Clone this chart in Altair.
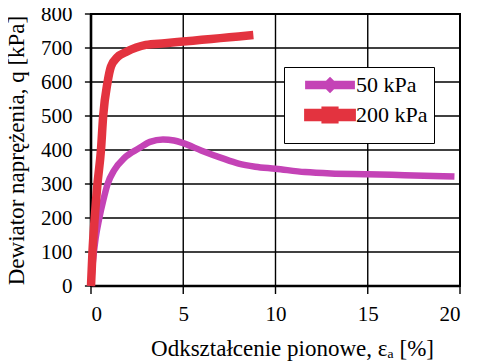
import altair as alt
import pandas as pd

series_names = ["50 kPa", "200 kPa"]

eps_50 = [0, 0.1, 0.25, 0.45, 0.67, 0.9, 1.26, 1.8, 2.6, 3.2, 3.9, 4.5, 5, 6, 7.1, 8, 8.9, 10, 11.6, 13, 15, 17, 19.7]
q_50 = [0, 70, 140, 200, 253, 300, 341, 376, 405, 424, 431, 428, 420, 398, 376, 360, 351, 345, 335, 331, 329, 326, 322]

eps_200 = [0, 0.08, 0.2, 0.35, 0.54, 0.66, 0.9, 1.08, 1.43, 1.9, 2.97, 4, 5, 6, 7, 8, 8.8]
q_200 = [0, 100, 200, 300, 400, 500, 600, 645, 673, 688, 709, 714, 719, 724, 729, 734, 738]

x_ticks = [0, 5, 10, 15, 20]
y_ticks = [0, 100, 200, 300, 400, 500, 600, 700, 800]

colors = ["#c443b6", "#e3333f"]
widths = [6.5, 8.5]
legend_paths = [
    "M-4,-0.12L1,-0.12L1,0.12L-4,0.12Z M-1.5,-0.42L-1.08,0L-1.5,0.42L-1.92,0Z",
    "M-4,-0.24L1,-0.24L1,0.24L-4,0.24Z M-2,-0.5L-1,-0.5L-1,0.5L-2,0.5Z",
]

# tick lengths expressed in axis units (style constants)
X_TICK_LEN = 23.5   # kPa below the x axis
Y_TICK_LEN = 0.33   # % left of the y axis

rows = []
for e, q in zip(eps_50, q_50):
    rows.append({"series": series_names[0], "eps": e, "q": q, "o": 0})
for e, q in zip(eps_200, q_200):
    rows.append({"series": series_names[1], "eps": e, "q": q, "o": 1})
df = pd.DataFrame(rows)

x0, x1 = x_ticks[0], x_ticks[-1]
y0, y1 = y_ticks[0], y_ticks[-1]

vg_df = pd.DataFrame({"eps": x_ticks, "q": [y0] * len(x_ticks), "q2": [y1] * len(x_ticks)})
hg_df = pd.DataFrame({"q": y_ticks, "eps": [x0] * len(y_ticks), "eps2": [x1] * len(y_ticks)})
xt_df = pd.DataFrame({"eps": x_ticks, "q": [y0] * len(x_ticks), "q2": [y0 - X_TICK_LEN] * len(x_ticks)})
yt_df = pd.DataFrame({"q": y_ticks, "eps": [x0 - Y_TICK_LEN] * len(y_ticks), "eps2": [x0] * len(y_ticks)})
ld_df = pd.DataFrame({"eps": [x0], "q": [y0], "q2": [y1]})
bd_df = pd.DataFrame({"q": [y0], "eps": [x0], "eps2": [x1]})

FONT = "Liberation Serif"

xs = alt.Scale(domain=[0, 20], nice=False)
ys = alt.Scale(domain=[0, 800], nice=False)

common_axis = dict(
    grid=False, domain=False, ticks=False,
    labelFont=FONT, labelFontSize=21, labelColor="black",
    titleFont=FONT, titleFontSize=23, titleColor="black", titleFontWeight="normal",
)

x_axis = alt.Axis(values=x_ticks, title="Odkształcenie pionowe, εₐ [%]",
                  titleX=201, titleY=69, titleBaseline="alphabetic",
                  labelBaseline="alphabetic", labelPadding=34, **common_axis)
y_axis = alt.Axis(values=y_ticks, title="Dewiator naprężenia, q [kPa]",
                  titleX=-75, titleY=136, titleBaseline="middle", titleAngle=270,
                  labelPadding=19, **common_axis)

x_enc = alt.X("eps:Q", scale=xs, axis=x_axis)
y_enc = alt.Y("q:Q", scale=ys, axis=y_axis)

color_scale = alt.Scale(domain=series_names, range=colors)
legend = alt.Legend(title=None, orient="none", legendX=193, legendY=53,
                    strokeColor="black", fillColor="white", padding=6,
                    symbolSize=300, symbolStrokeWidth=0, labelOffset=0,
                    labelFontSize=22, labelFont=FONT, labelColor="black", rowPadding=-10,
                    symbolOffset=40)


def vbars(data, half):
    return alt.Chart(data).mark_rect(color="black", xOffset=-half, x2Offset=half).encode(
        x=x_enc, x2="eps:Q", y=y_enc, y2="q2:Q")


def hbars(data, half):
    return alt.Chart(data).mark_rect(color="black", yOffset=-half, y2Offset=half).encode(
        y=y_enc, y2="q:Q", x=x_enc, x2="eps2:Q")


vgrid = vbars(vg_df, 0.7)
hgrid = hbars(hg_df, 0.7)
xticks = vbars(xt_df, 0.7)
yticks = hbars(yt_df, 0.7)
left_dom = vbars(ld_df, 1.3)
bottom_dom = hbars(bd_df, 1.3)

lines = alt.Chart(df).mark_line(interpolate="monotone").encode(
    x=x_enc, y=y_enc,
    color=alt.Color("series:N", scale=color_scale, legend=None),
    strokeWidth=alt.StrokeWidth("series:N", scale=alt.Scale(domain=series_names, range=widths), legend=None),
    order="o:Q",
)

pts = alt.Chart(df).transform_filter("false").mark_point(filled=True, opacity=1).encode(
    x=x_enc, y=y_enc,
    color=alt.Color("series:N", scale=color_scale, legend=legend),
    shape=alt.Shape("series:N", scale=alt.Scale(domain=series_names, range=legend_paths), legend=legend),
)

chart = alt.layer(vgrid, hgrid, xticks, yticks, left_dom, bottom_dom, pts, lines).properties(
    width=369, height=272,
    autosize="none",
    padding={"left": 83, "top": 6, "right": 8, "bottom": 75},
).configure(font=FONT).configure_view(stroke="black", strokeWidth=2)

chart.save("out.html", embed_options={"renderer": "svg", "actions": False})
